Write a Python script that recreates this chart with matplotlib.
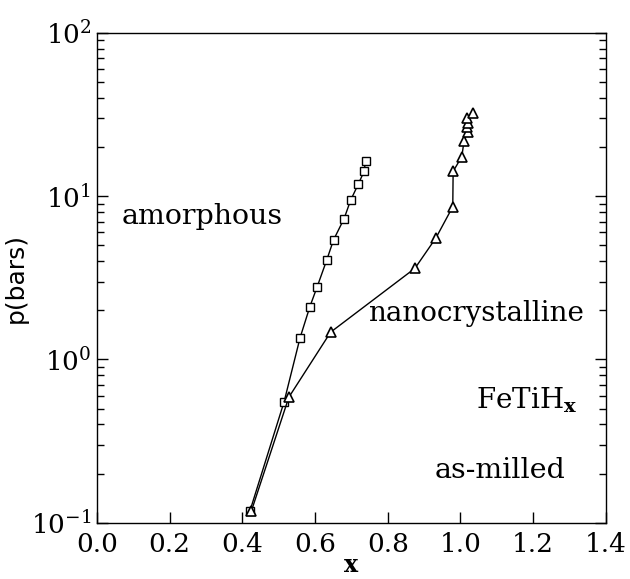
import math
import matplotlib
matplotlib.use('Agg')
import matplotlib.pyplot as plt
from matplotlib.ticker import LogLocator, MultipleLocator, NullFormatter

plt.rcParams['font.family'] = 'DejaVu Serif'
plt.rcParams['mathtext.fontset'] = 'dejavuserif'

# amorphous (squares)
x_amorph = [0.421, 0.515, 0.559, 0.586, 0.606, 0.632, 0.651, 0.680, 0.698, 0.719, 0.735, 0.739]
p_amorph = [0.118, 0.551, 1.36, 2.11, 2.79, 4.05, 5.40, 7.29, 9.45, 11.85, 14.2, 16.4]

# nanocrystalline (triangles)
x_nano = [0.425, 0.528, 0.643, 0.875, 0.933, 0.979, 0.980, 1.004, 1.010, 1.020, 1.019, 1.022, 1.019, 1.034]
p_nano = [0.118, 0.587, 1.47, 3.62, 5.57, 8.63, 14.2, 17.5, 21.9, 24.7, 26.7, 28.0, 30.1, 32.5]

fig = plt.figure(figsize=(6.3, 5.79), dpi=100)
ax = fig.add_axes([0.1538, 0.0972, 0.8078, 0.8458])

ax.plot(x_amorph, p_amorph, color='black', lw=1.0, marker='s', ms=5.5,
        mfc='white', mec='black', mew=1.0)
ax.plot(x_nano, p_nano, color='black', lw=1.0, marker='^', ms=7,
        mfc='white', mec='black', mew=1.2)

ax.set_yscale('log')
ax.set_xlim(0.0, 1.4)
ax.set_ylim(0.1, 100)
ax.xaxis.set_major_locator(MultipleLocator(0.2))
ax.xaxis.set_major_formatter(plt.FuncFormatter(lambda v, pos: f'{v:.1f}'))
ax.yaxis.set_major_locator(LogLocator(base=10))
ax.yaxis.set_minor_locator(LogLocator(base=10, subs=range(2, 10)))
ax.yaxis.set_minor_formatter(NullFormatter())
ax.yaxis.set_major_formatter(plt.FuncFormatter(
    lambda v, pos: r'$10^{%d}$' % round(math.log10(v))))

ax.tick_params(which='both', direction='in', top=False, right=True, labelsize=19)
ax.tick_params(axis='x', pad=7)
ax.tick_params(axis='y', pad=4)
ax.tick_params(which='major', length=8, width=1)
ax.tick_params(which='minor', length=5, width=1)
for s in ax.spines.values():
    s.set_linewidth(1.0)

ax.set_xlabel('x', fontsize=17, fontweight='bold', labelpad=-3)
ax.set_ylabel('p(bars)', fontsize=18, family='DejaVu Sans', labelpad=2)

ax.text(0.069, 7.47, 'amorphous', fontsize=20.5, ha='left', va='center')
ax.text(0.745, 1.90, 'nanocrystalline', fontsize=20, ha='left', va='center')
ax.text(1.043, 0.565, r'FeTiH$_{\mathbf{x}}$', fontsize=20, ha='left', va='center')
ax.text(0.93, 0.21, 'as-milled', fontsize=20.5, ha='left', va='center')

fig.savefig('out.png', dpi=100)
